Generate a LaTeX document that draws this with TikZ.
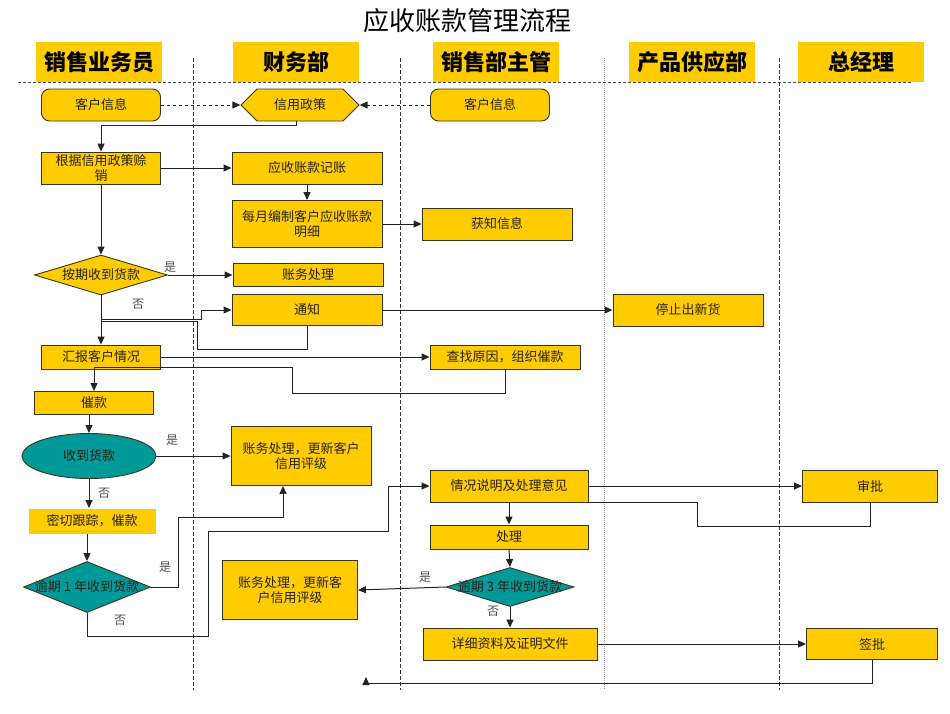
\documentclass[tikz,border=0pt]{standalone}
\usepackage{fontspec}
\setmainfont{Noto Sans CJK SC}
\usetikzlibrary{shapes,arrows.meta}

\definecolor{boxfill}{RGB}{255,204,0}
\definecolor{boxline}{RGB}{60,52,25}
\definecolor{tealfill}{RGB}{0,153,153}
\definecolor{wire}{RGB}{35,35,35}
\definecolor{txt}{RGB}{40,34,20}

\tikzset{
  box/.style={draw=boxline, fill=boxfill, line width=0.9pt, inner sep=1pt, align=center, text=txt, font=\fontsize{13}{14.5}\selectfont},
  term/.style={box, rounded corners=8pt},
  policy/.style={box, signal, signal to=west and east, signal pointer angle=90},
  decision/.style={box, diamond, aspect=#1, inner sep=0pt},
  oval/.style={box, ellipse, fill=tealfill},
  lane/.style={fill=boxfill, minimum width=126, minimum height=40, inner sep=0pt, font=\fontsize{22}{24}\selectfont\bfseries},
  lbl/.style={text=wire!80, font=\fontsize{12}{13}\selectfont, inner sep=0pt},
  flow/.style={draw=wire, line width=1pt, -{Triangle[length=8pt,width=7pt]}},
  line/.style={draw=wire, line width=1pt},
  lanesep/.style={draw=black!80, line width=0.6pt, dash pattern=on 4pt off 2pt},
}

\begin{document}
\begin{tikzpicture}[x=1pt,y=-1pt]
\useasboundingbox (0,0) rectangle (950,713);
% title and lanes
\node[font=\fontsize{26}{30}\selectfont] (title) at (467,21) {应收账款管理流程};
\node[lane] (hA) at (99,62) {销售业务员};
\node[lane] (hB) at (296,62) {财务部};
\node[lane] (hC) at (496,62) {销售部主管};
\node[lane] (hD) at (692,62) {产品供应部};
\node[lane] (hE) at (861,62) {总经理};
\foreach \x in {193,400,779} {
\draw[lanesep] (\x,58) -- (\x,690);
}
\draw[lanesep, draw=black!40, dash pattern=on 1pt off 1pt] (604,58) -- (604,690);
\draw[lanesep, draw=black!70, dash pattern=on 3pt off 2pt] (18,82) -- (912,82);

% credit policy
\node[term, minimum width=119, minimum height=32] (kh1) at (101,105) {客户信息};
\node[policy, minimum width=118, minimum height=32] (xyzc) at (300,105) {信用政策};
\node[term, minimum width=119, minimum height=32] (kh2) at (490,105) {客户信息};
\draw[flow, dashed] (kh1.east) -- (xyzc.west);
\draw[flow, dashed] (kh2.west) -- (xyzc.east);

\node[box, minimum width=119, minimum height=32] (sx) at (101,168) {根据信用政策赊\\销};
\node[box, minimum width=150, minimum height=32] (jz) at (307,168) {应收账款记账};
\node[box, minimum width=150, minimum height=47] (mx) at (307,224) {每月编制客户应收账款\\明细};
\node[box, minimum width=150, minimum height=32] (hz) at (497,224) {获知信息};
\draw[flow] ([xshift=-4pt]xyzc.south) -- ++(0,4) -| (sx.north);
\draw[flow] (sx.east) -- (jz.west);
\draw[flow] (jz.south) -- (mx.north);
\draw[flow] (mx.east) -- (hz.west);

% payment on time?
\node[decision=3.3, minimum width=133, minimum height=40] (aq) at (101,275) {按期收到货款};
\node[box, minimum width=150, minimum height=23] (zwcl) at (308,275) {账务处理};
\node[box, minimum width=150, minimum height=31] (tz) at (307,310) {通知};
\node[box, minimum width=150, minimum height=32] (tzcx) at (688,310) {停止出新货};
\node[lbl] (y1) at (170,267) {是};
\node[lbl] (n1) at (138,304) {否};
\draw[flow] (sx.south) -- (aq.north);
\draw[flow] (aq.east) -- (zwcl.west);
\draw[flow] (aq.south) ++(0,24) -| (201,310) -- (tz.west);
\draw[line] (tz.south) |- (197,349) |- (aq.south |- 0,321);
\draw[flow] (tz.east) -- (tzcx.west);

\node[box, minimum width=119, minimum height=24] (hb) at (101,357) {汇报客户情况};
\node[box, minimum width=150, minimum height=24] (cz) at (505,357) {查找原因，组织催款};
\node[box, minimum width=119, minimum height=23] (ck) at (94,403) {催款};
\draw[flow] (aq.south) -- (hb.north);
\draw[flow] (hb.east) -- (cz.west);
\draw[flow] (cz.south) |- (292,393) |- (ck.north |- 0,367) -- (ck.north);

% collection
\node[oval, minimum width=134, minimum height=45] (sd) at (89,456) {收到货款};
\node[box, minimum width=140, minimum height=59] (gx1) at (301,456) {账务处理，更新客户\\信用评级};
\node[box, draw=none, minimum width=127, minimum height=25] (mq) at (92,521) {密切跟踪，催款};
\node[decision=2.5, fill=tealfill, minimum width=127, minimum height=51] (yq1) at (87,587) {\makebox[80pt]{逾期 1 年收到货款}};
\node[lbl] (y2) at (172,440) {是};
\node[lbl] (n2) at (104,493) {否};
\node[lbl] (y3) at (165,567) {是};
\node[lbl] (n3) at (120,620) {否};
\draw[flow] (sd.north |- ck.south) -- (sd.north);
\draw[flow] (sd.east) -- (gx1.west);
\draw[flow] (sd.south) -- (sd.south |- mq.north);
\draw[flow] (yq1.north |- mq.south) -- (yq1.north);
\draw[flow] (yq1.east) -| (178,517) -| ([xshift=-18pt]gx1.south);

% overdue handling
\node[box, minimum width=158, minimum height=32] (qk) at (509,486) {情况说明及处理意见};
\node[box, minimum width=135, minimum height=32] (sp) at (870,486) {审批};
\node[box, minimum width=158, minimum height=24] (cl) at (509,537) {处理};
\node[decision=3.3, fill=tealfill, minimum width=128, minimum height=39] (yq3) at (510,587) {\makebox[80pt]{逾期 3 年收到货款}};
\node[box, minimum width=135, minimum height=59] (gx2) at (290,590) {账务处理，更新客\\户信用评级};
\node[box, minimum width=174, minimum height=32] (xx) at (510,644) {详细资料及证明文件};
\node[box, minimum width=131, minimum height=31] (qp) at (872,644) {签批};
\node[lbl] (y4) at (425,577) {是};
\node[lbl] (n4) at (493,611) {否};
\coordinate (back) at (366,677);
\draw[flow] (yq1.south) |- (208,636) |- (388,531) |- (qk.west);
\draw[flow] (qk.east) -- (sp.west);
\draw[line] (sp.south) |- (697,526) |- (qk.south east);
\draw[flow] (qk.south) -- (cl.north);
\draw[flow] (cl.south) -- (yq3.north);
\draw[flow] (yq3.west) -- (gx2.east);
\draw[flow] (yq3.south) -- (xx.north);
\draw[flow] (xx.east) -- (qp.west);
\draw[flow] (qp.south) |- (back |- 0,683) -- (back);
\end{tikzpicture}
\end{document}
